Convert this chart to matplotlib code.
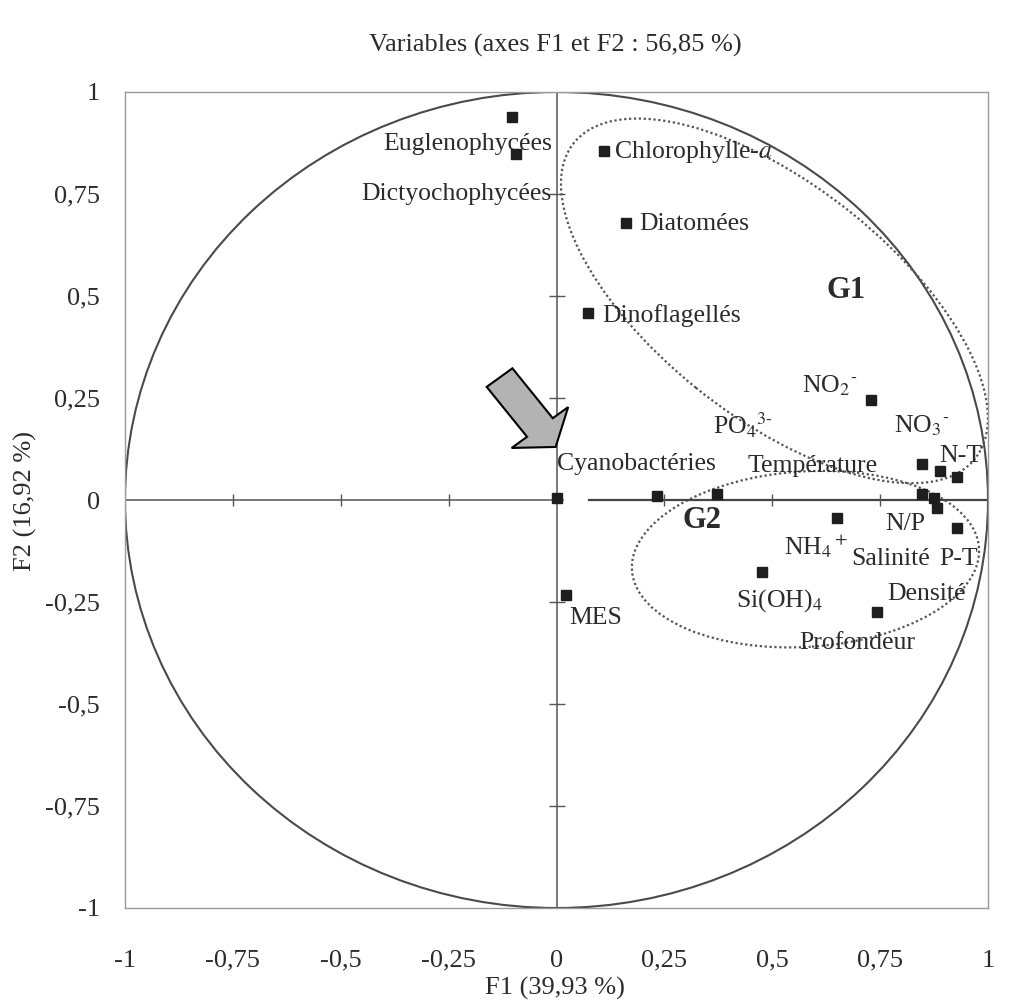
import numpy as np
import matplotlib
matplotlib.use("Agg")
import matplotlib.pyplot as plt
from matplotlib.patches import Circle, Ellipse, FancyArrow

plt.rcParams['font.family'] = ['Liberation Serif', 'DejaVu Serif']
plt.rcParams['mathtext.fontset'] = 'stix'

# variable coordinates on F1 / F2
names = ["Euglenophycées", "Dictyochophycées", "Chlorophylle-a", "Diatomées",
         "Dinoflagellés", "Cyanobactéries", "MES", "PO4", "Température", "NO2",
         "NO3", "N-T", "(sans étiquette)", "N/P", "Salinité", "Densité", "P-T",
         "NH4", "Si(OH)4", "Profondeur"]
f1 = [-0.102, -0.093, 0.111, 0.160, 0.072, 0.0, 0.023, 0.234, 0.371, 0.728,
      0.846, 0.888, 0.927, 0.846, 0.876, 0.881, 0.927, 0.649, 0.477, 0.742]
f2 = [0.939, 0.848, 0.855, 0.679, 0.458, 0.005, -0.233, 0.010, 0.015, 0.245,
      0.088, 0.071, 0.056, 0.015, 0.005, -0.020, -0.069, -0.044, -0.176, -0.275]

# label text (mathtext for chemistry) and where each one sits
label_txt = ["Euglenophycées", "Dictyochophycées", r"Chlorophylle-$\mathit{a}$",
             "Diatomées", "Dinoflagellés", "Cyanobactéries", "MES",
             r"PO$_4$$^{3\text{-}}$", "Température", r"NO$_2$$^{\text{-}}$",
             r"NO$_3$$^{\text{-}}$", "N-T", None, "N/P", "Salinité", "Densité",
             "P-T", r"NH$_4$$^+$", r"Si(OH)$_4$", "Profondeur"]
label_xy = [(-0.401, 0.873), (-0.452, 0.750), (0.134, 0.853), (0.192, 0.677),
            (0.107, 0.451), (0.0, 0.089), (0.030, -0.289), (0.362, 0.182),
            (0.443, 0.084), (0.570, 0.280), (0.783, 0.182), (0.888, 0.108),
            None, (0.762, -0.058), (0.684, -0.144), (0.767, -0.230),
            (0.888, -0.144), (0.528, -0.112), (0.417, -0.247), (0.563, -0.350)]

ticks = [-1, -0.75, -0.5, -0.25, 0, 0.25, 0.5, 0.75, 1]
tick_labels = ["-1", "-0,75", "-0,5", "-0,25", "0", "0,25", "0,5", "0,75", "1"]

# group ellipses: centre, width, height, angle
groups = {"G1": ((0.505, 0.488), 1.21, 0.56, -40.5),
          "G2": ((0.577, -0.145), 0.806, 0.43, 4.0)}
group_label_xy = {"G1": (0.626, 0.513), "G2": (0.292, -0.051)}

ink = "#2b2b2b"

fig = plt.figure(figsize=(10.30, 10.01), dpi=100)
fig.patch.set_facecolor("white")
ax = fig.add_axes([125 / 1030, 1 - 908 / 1001, 863 / 1030, 816 / 1001])
ax.set_xlim(-1, 1)
ax.set_ylim(-1, 1)
for s in ax.spines.values():
    s.set_color("#9a9a9a")
    s.set_linewidth(1.0)

ax.set_xticks(ticks)
ax.set_xticklabels(tick_labels)
ax.set_yticks(ticks)
ax.set_yticklabels(tick_labels)
ax.tick_params(axis="x", length=0, pad=30, labelsize=19, labelcolor=ink)
ax.tick_params(axis="y", length=0, pad=18, labelsize=19, labelcolor=ink)

# correlation circle
ax.add_patch(Circle((0, 0), 1, fill=False, color="#4a4a4a", lw=1.5))

# inner axes with small ticks
ax.plot([-1, 0.014], [0, 0], color="#555555", lw=1.1)
ax.plot([0.076, 1], [0, 0], color="#444444", lw=1.6)
ax.plot([0, 0], [-1, 1], color="#555555", lw=1.1)
inner = [t for t in ticks if t not in (-1, 0, 1)]
ax.plot(inner, [0] * len(inner), ls="none", marker="|", ms=9, mew=1, color="#555555")
ax.plot([0] * len(inner), inner, ls="none", marker="_", ms=11, mew=1, color="#555555")

# group ellipses
for g, (c, w, h, a) in groups.items():
    ax.add_patch(Ellipse(c, w, h, angle=a, fill=False, ls=(0, (1, 1.2)),
                         lw=1.6, color="#555555"))
    ax.text(*group_label_xy[g], g, fontsize=22, fontweight="bold", color=ink,
            ha="left", va="center")

# variables
ax.plot(f1, f2, ls="none", marker="s", ms=6.5, color="#1e1e1e", zorder=5)
for txt, xy in zip(label_txt, label_xy):
    if xy is None:
        continue
    ax.text(xy[0], xy[1], txt, fontsize=18.5, color=ink, ha="left", va="center")

# highlight arrow towards Cyanobactéries
ax.add_patch(FancyArrow(-0.132, 0.300, 0.130, -0.170, width=0.075,
                        head_width=0.165, head_length=0.06,
                        length_includes_head=True, fc="#b3b3b3", ec="black",
                        lw=1.5, zorder=6))

fig.text(555 / 1030, 1 - 45 / 1001, "Variables (axes F1 et F2 : 56,85 %)",
         fontsize=19, color=ink, ha="center", va="center")
fig.text(555 / 1030, 1 - 988 / 1001, "F1 (39,93 %)", fontsize=19, color=ink,
         ha="center", va="center")
fig.text(25 / 1030, 500 / 1001, "F2 (16,92 %)", fontsize=19, color=ink,
         ha="center", va="center", rotation=90)

fig.savefig("out.png", dpi=100)
